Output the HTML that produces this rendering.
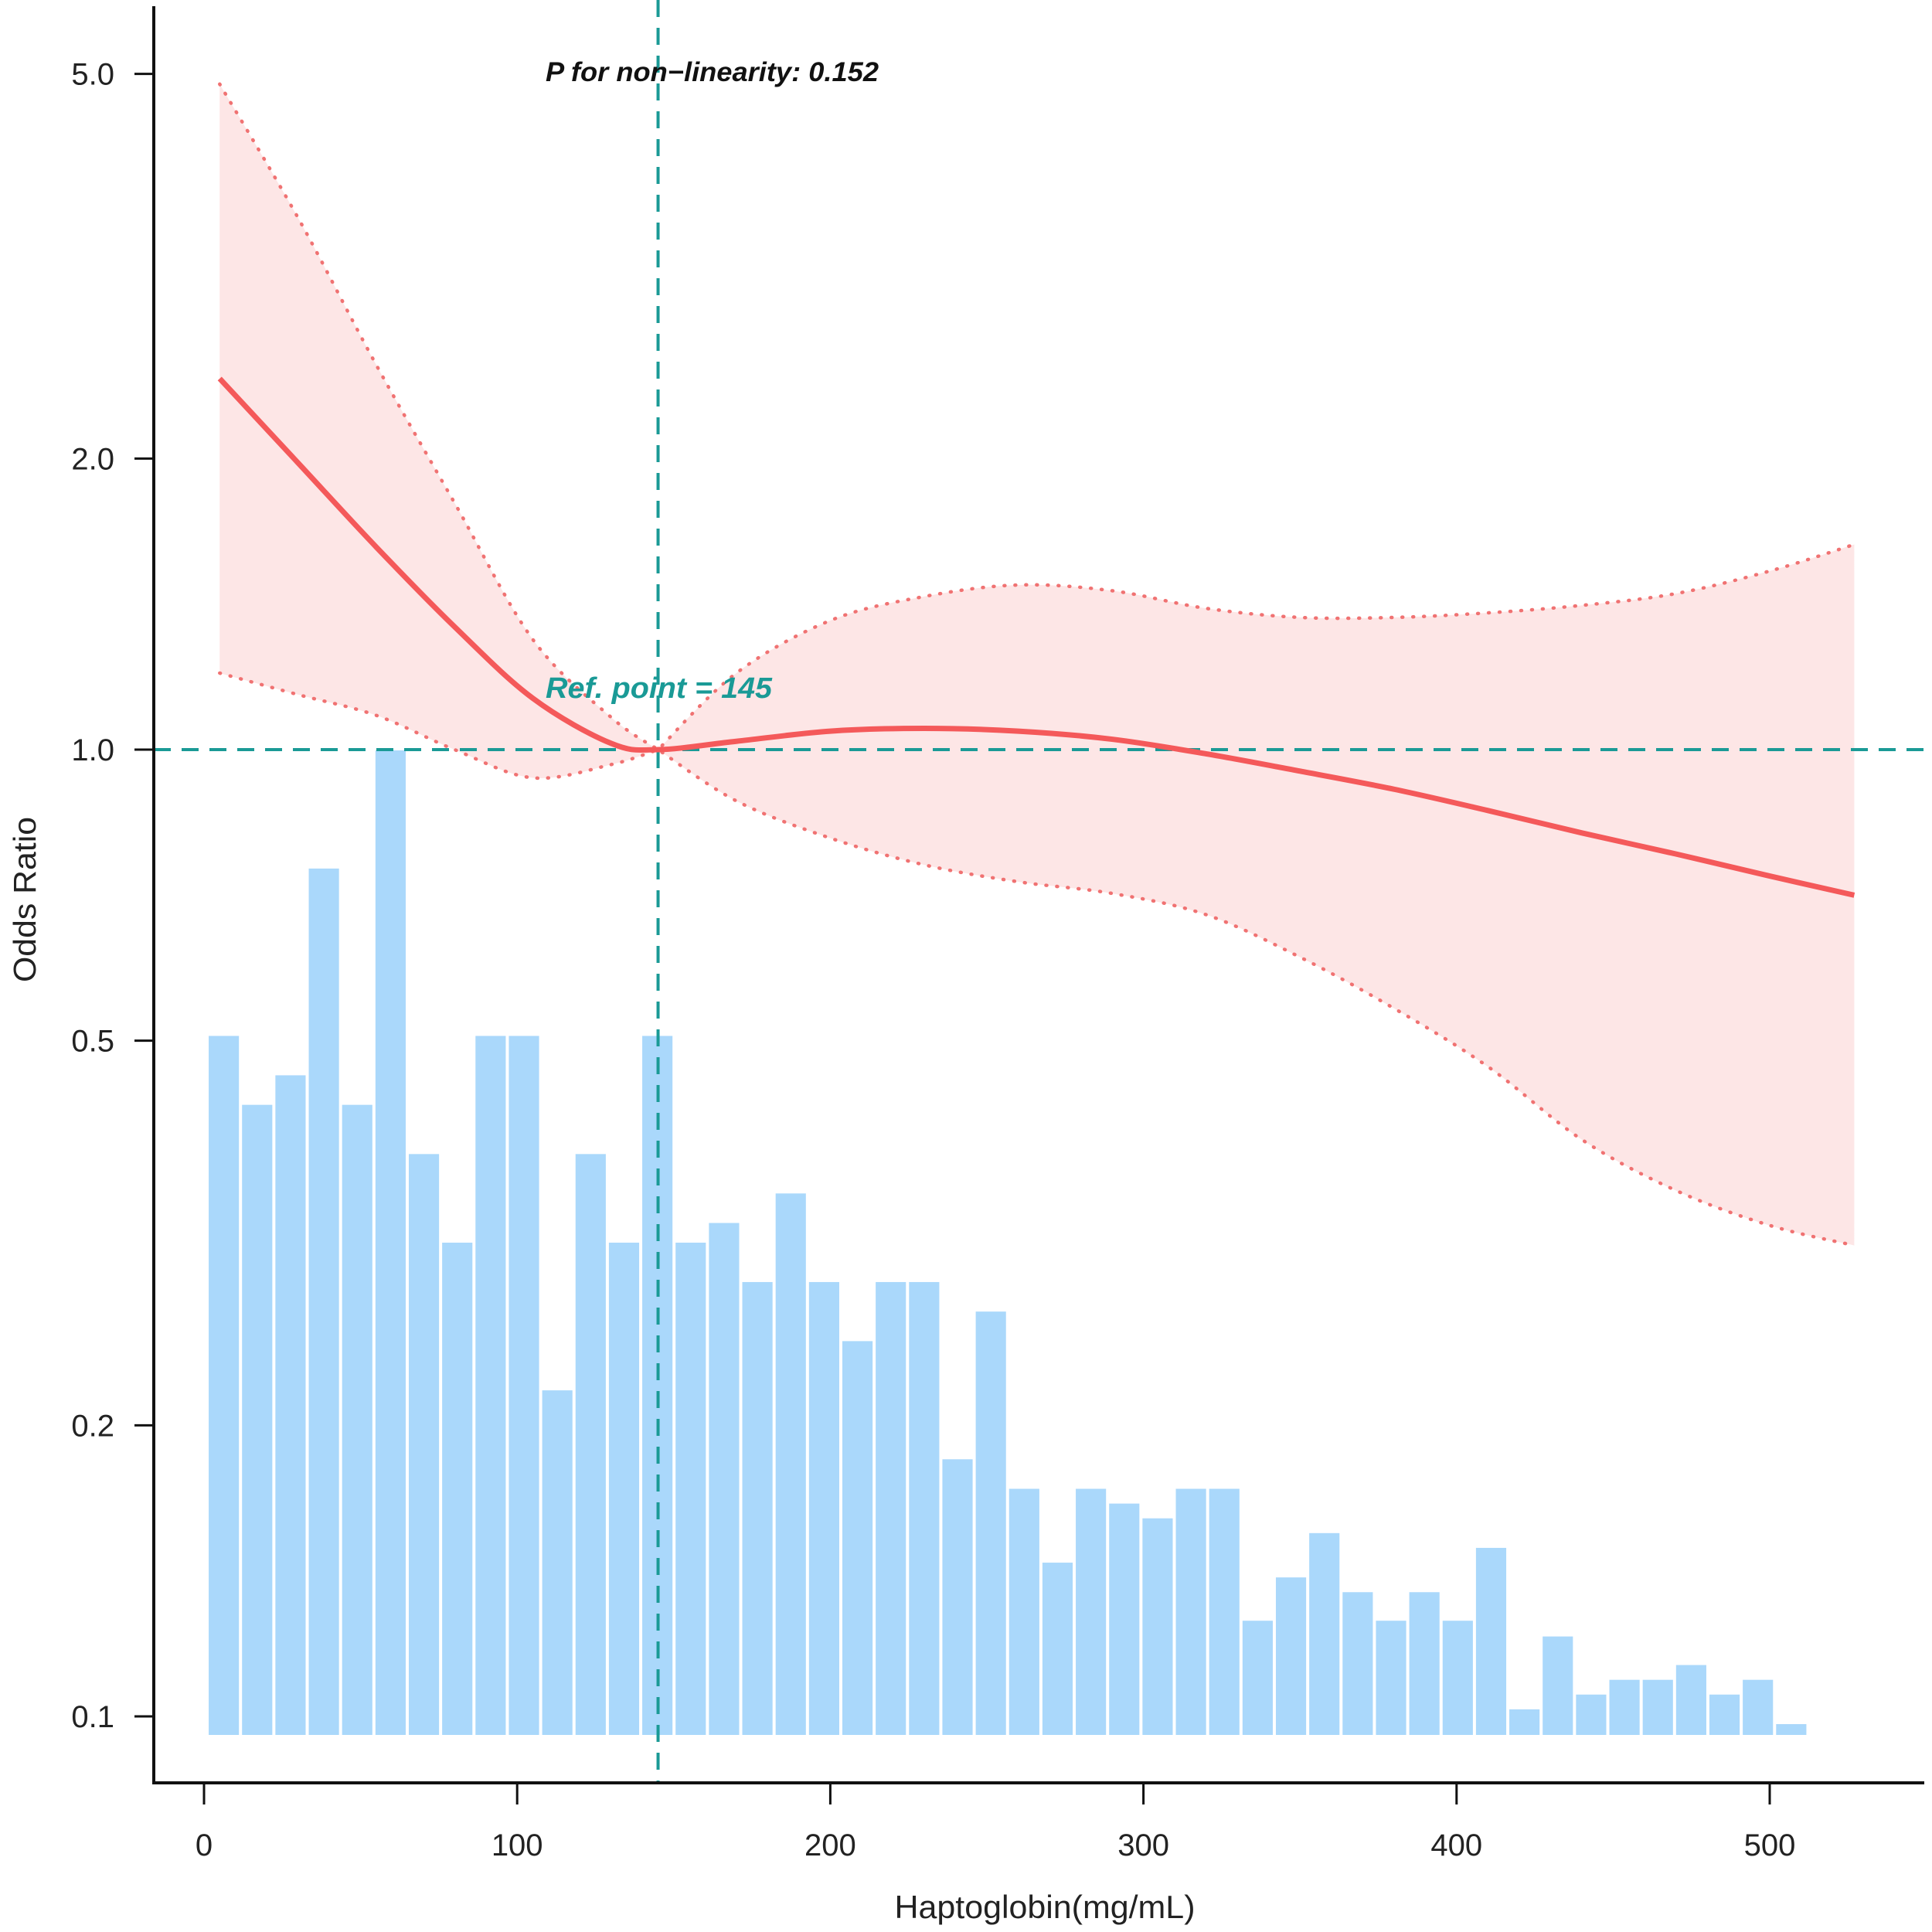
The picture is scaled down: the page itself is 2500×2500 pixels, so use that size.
<!DOCTYPE html>
<html><head><meta charset="utf-8"><style>
html,body{margin:0;padding:0;background:#fff;}
svg{display:block;font-family:"Liberation Sans",Arial,sans-serif;}
</style></head><body>
<svg id="chart" width="2500" height="2500" viewBox="0 0 2500 2500" xmlns="http://www.w3.org/2000/svg">
<g id="bars"></g>
<path id="band" fill="#fde6e6" stroke="none"/>
<path id="upper" fill="none" stroke="#f07272" stroke-width="4.5" stroke-dasharray="1 13" stroke-linecap="round"/>
<path id="lower" fill="none" stroke="#f07272" stroke-width="4.5" stroke-dasharray="1 13" stroke-linecap="round"/>
<line id="refh" x1="199" x2="2490" stroke="#1a9a96" stroke-width="4" stroke-dasharray="22 14"/>
<line id="refv" y1="0" y2="2307" stroke="#1a9a96" stroke-width="4" stroke-dasharray="22 14"/>
<path id="main" fill="none" stroke="#f4595a" stroke-width="7"/>
<line x1="199" y1="8" x2="199" y2="2309" stroke="#111" stroke-width="4"/>
<line x1="197" y1="2307" x2="2490" y2="2307" stroke="#111" stroke-width="4"/>
<g id="yticks"></g>
<g id="xticks"></g>
<text x="706" y="105" font-size="35" font-weight="bold" font-style="italic" fill="#111" textLength="431" lengthAdjust="spacingAndGlyphs">P for non−linearity: 0.152</text>
<text x="706" y="903" font-size="38" font-weight="bold" font-style="italic" fill="#1a9a96" textLength="293" lengthAdjust="spacingAndGlyphs">Ref. point = 145</text>
<text x="1352" y="2482" font-size="42" text-anchor="middle" fill="#222" textLength="389" lengthAdjust="spacingAndGlyphs">Haptoglobin(mg/mL)</text>
<text transform="translate(46,1164) rotate(-90)" font-size="41" text-anchor="middle" fill="#222" textLength="214" lengthAdjust="spacingAndGlyphs">Odds Ratio</text>
</svg>
<script>
const binStart = 1;
const binWidth = 10.65;
const binHeights = [71,64,67,88,64,100,59,50,71,71,35,59,50,71,50,52,46,55,46,40,46,46,28,43,25,17.5,25,23.5,22,25,25,11.6,16,20.5,14.5,11.6,14.5,11.6,19,2.6,10,4.1,5.6,5.6,7.1,4.1,5.6,1.1];
const curveX = [5,30,55,80,105,130,145,170,200,230,260,290,320,350,380,410,440,470,500,527];
const orMain = [2.42,1.98,1.62,1.34,1.13,1.015,1.0,1.02,1.045,1.052,1.045,1.025,0.99,0.95,0.91,0.865,0.82,0.78,0.74,0.707];
const orUpper = [4.88,3.55,2.5,1.8,1.3,1.08,1.0,1.2,1.36,1.44,1.48,1.46,1.40,1.37,1.37,1.385,1.41,1.45,1.53,1.63];
const orLower = [1.20,1.14,1.085,1.0,0.935,0.965,1.0,0.885,0.81,0.76,0.73,0.71,0.675,0.61,0.54,0.47,0.395,0.35,0.322,0.307];
const yTickVals = [0.1,0.2,0.5,1.0,2.0,5.0];
const yTickLabels = ["0.1","0.2","0.5","1.0","2.0","5.0"];
const xTickVals = [0,100,200,300,400,500];
const refX = 145, refOR = 1;

const NS = "http://www.w3.org/2000/svg";
const xs = v => 264 + v * 4.052;
const ys = v => 970 - Math.log10(v) * 1251;
const barBase = 2245, barMaxH = 1274;
const hs = v => barBase - v / 100 * barMaxH;

const barsG = document.getElementById('bars');
binHeights.forEach((h, i) => {
  const r = document.createElementNS(NS, 'rect');
  const x0 = xs(binStart + i * binWidth), x1 = xs(binStart + (i + 1) * binWidth);
  r.setAttribute('x', x0 + 2);
  r.setAttribute('width', x1 - x0 - 4);
  r.setAttribute('y', hs(h));
  r.setAttribute('height', barBase - hs(h));
  r.setAttribute('fill', '#aad8fb');
  
  
  barsG.appendChild(r);
});

function smooth(pts, move) {
  let d = (move === false ? 'L' : 'M') + `${pts[0][0]},${pts[0][1]}`;
  for (let i = 0; i < pts.length - 1; i++) {
    const p0 = pts[Math.max(0, i - 1)], p1 = pts[i], p2 = pts[i + 1], p3 = pts[Math.min(pts.length - 1, i + 2)];
    const c1 = [p1[0] + (p2[0] - p0[0]) / 6, p1[1] + (p2[1] - p0[1]) / 6];
    const c2 = [p2[0] - (p3[0] - p1[0]) / 6, p2[1] - (p3[1] - p1[1]) / 6];
    d += ` C${c1[0]},${c1[1]} ${c2[0]},${c2[1]} ${p2[0]},${p2[1]}`;
  }
  return d;
}
const refIdx = curveX.indexOf(refX);
function ciPath(pts) {
  return smooth(pts.slice(0, refIdx + 1)) + ' ' + smooth(pts.slice(refIdx), false);
}
const mp = curveX.map((x, i) => [xs(x), ys(orMain[i])]);
const up = curveX.map((x, i) => [xs(x), ys(orUpper[i])]);
const lp = curveX.map((x, i) => [xs(x), ys(orLower[i])]);
document.getElementById('main').setAttribute('d', smooth(mp));
document.getElementById('upper').setAttribute('d', ciPath(up));
document.getElementById('lower').setAttribute('d', ciPath(lp));
const lr = lp.slice().reverse();
const ri = lr.length - 1 - refIdx;
const lrev = smooth(lr.slice(0, ri + 1), false) + ' ' + smooth(lr.slice(ri), false);
document.getElementById('band').setAttribute('d', ciPath(up) + ' ' + lrev + ' Z');

const rh = document.getElementById('refh');
rh.setAttribute('y1', ys(refOR)); rh.setAttribute('y2', ys(refOR));
const rv = document.getElementById('refv');
rv.setAttribute('x1', xs(refX)); rv.setAttribute('x2', xs(refX));

const yg = document.getElementById('yticks');
yTickVals.forEach((v, i) => {
  const l = document.createElementNS(NS, 'line');
  l.setAttribute('x1', 174); l.setAttribute('x2', 199);
  l.setAttribute('y1', ys(v)); l.setAttribute('y2', ys(v));
  l.setAttribute('stroke', '#111'); l.setAttribute('stroke-width', 3);
  
  
  yg.appendChild(l);
  const t = document.createElementNS(NS, 'text');
  t.setAttribute('x', 148); t.setAttribute('y', ys(v) + 14);
  t.setAttribute('text-anchor', 'end'); t.setAttribute('font-size', 40); t.setAttribute('fill', '#222');
  t.textContent = yTickLabels[i];
  
  
  yg.appendChild(t);
});
const xg = document.getElementById('xticks');
xTickVals.forEach(v => {
  const l = document.createElementNS(NS, 'line');
  l.setAttribute('x1', xs(v)); l.setAttribute('x2', xs(v));
  l.setAttribute('y1', 2307); l.setAttribute('y2', 2335);
  l.setAttribute('stroke', '#111'); l.setAttribute('stroke-width', 3);
  
  
  xg.appendChild(l);
  const t = document.createElementNS(NS, 'text');
  t.setAttribute('x', xs(v)); t.setAttribute('y', 2401);
  t.setAttribute('text-anchor', 'middle'); t.setAttribute('font-size', 40); t.setAttribute('fill', '#222');
  t.textContent = String(v);
  
  
  xg.appendChild(t);
});
</script>
</body></html>
